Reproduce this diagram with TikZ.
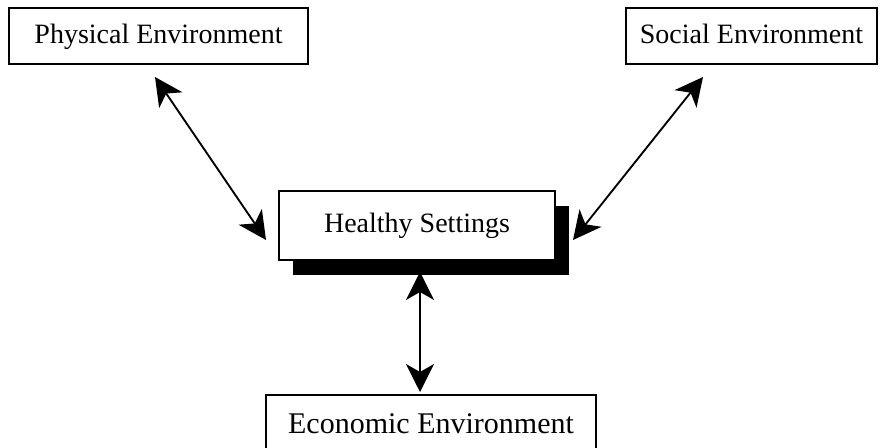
\documentclass[tikz,border=0pt]{standalone}
\usepackage{fontspec}
\setmainfont{Liberation Serif}
\usetikzlibrary{arrows.meta,shadows}

\tikzset{
	envbox/.style={shape=rectangle,draw=black,line width=1.3pt,fill=white,inner sep=0pt,
		font=\fontsize{21}{25}\selectfont},
	twoway/.style={{Stealth[length=21pt,width=21pt,inset=6pt]}-{Stealth[length=21pt,width=21pt,inset=6pt]},
		line width=1.4pt}
}

\begin{document}
\begin{tikzpicture}[x=0.75pt,y=-0.75pt]
	\useasboundingbox (0,0) rectangle (881,448);
	\clip (0,0) rectangle (881,448);
	\node[envbox,minimum width=224pt,text height=27pt,text depth=15pt] (phys) at (158.5,36) {Physical Environment};
	\node[envbox,minimum width=188pt,text height=27pt,text depth=15pt] (soc) at (751.5,36) {Social Environment};
	\node[envbox,minimum width=207pt,text height=31.5pt,text depth=20.25pt,
		drop shadow={shadow xshift=10.5pt,shadow yshift=-11pt,fill=black,opacity=1}] (hs) at (417,225.5) {Healthy Settings};
	\node[envbox,anchor=north,minimum width=247.5pt,text height=29.25pt,text depth=30pt,
		font=\fontsize{22.5}{27}\selectfont] (econ) at (431,394) {Economic Environment};
	\coordinate (phys-tip) at (155,77);
	\coordinate (hs-left) at (266,240);
	\coordinate (soc-tip) at (703,77);
	\coordinate (hs-right) at (573,240);
	\coordinate (hs-bottom) at (420,272);
	\coordinate (econ-tip) at (420,392);
	\path[twoway] (phys-tip) edge (hs-left);
	\path[twoway] (soc-tip) edge (hs-right);
	\path[twoway] (hs-bottom) edge (econ-tip);
\end{tikzpicture}
\end{document}
